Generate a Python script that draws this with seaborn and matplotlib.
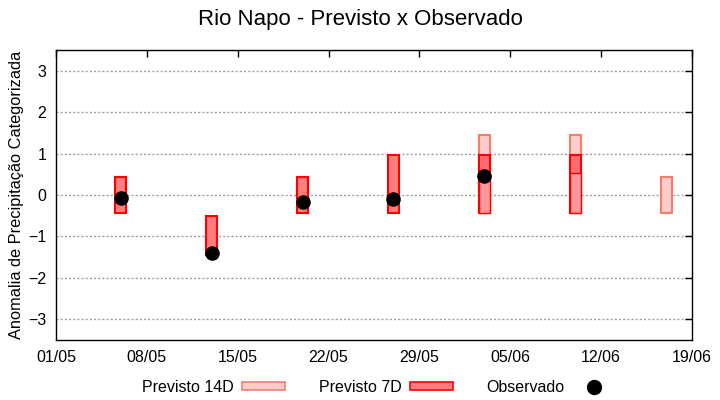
import matplotlib
matplotlib.use("Agg")
import matplotlib.pyplot as plt
import matplotlib.dates as mdates
from matplotlib.patches import Patch
from matplotlib.lines import Line2D
import numpy as np
import pandas as pd
import seaborn as sns

# ---------------- data ----------------
weeks = ["2024-05-06", "2024-05-13", "2024-05-20", "2024-05-27",
         "2024-06-03", "2024-06-10", "2024-06-17"]
prev7_low = [-0.43, -1.45, -0.43, -0.43, -0.43, -0.43, np.nan]
prev7_high = [0.43, -0.50, 0.43, 0.96, 0.96, 0.96, np.nan]
# level where the lighter (overlapping) part of the 7D box ends
prev7_split = [np.nan, np.nan, np.nan, np.nan, 0.52, 0.52, np.nan]
prev14_low = [np.nan, np.nan, np.nan, np.nan, -0.43, -0.43, -0.43]
prev14_high = [np.nan, np.nan, np.nan, np.nan, 1.45, 1.45, 0.43]
observado = [-0.08, -1.40, -0.17, -0.09, 0.45, np.nan, np.nan]

xtick_dates = ["2024-05-01", "2024-05-08", "2024-05-15", "2024-05-22",
               "2024-05-29", "2024-06-05", "2024-06-12", "2024-06-19"]
ytick_vals = [-3, -2, -1, 0, 1, 2, 3]

title = "Rio Napo - Previsto x Observado"
ylabel = "Anomalia de Precipitação Categorizada"
legend_labels = ["Previsto 14D", "Previsto 7D", "Observado"]

# ---------------- style ----------------
sns.set_style("white")
plt.rcParams["font.family"] = ["Liberation Sans", "DejaVu Sans"]
plt.rcParams["text.color"] = "black"
plt.rcParams["axes.labelcolor"] = "black"
plt.rcParams["xtick.color"] = "black"
plt.rcParams["ytick.color"] = "black"

df = pd.DataFrame({
    "data": pd.to_datetime(weeks),
    "p7_lo": prev7_low, "p7_hi": prev7_high, "p7_split": prev7_split,
    "p14_lo": prev14_low, "p14_hi": prev14_high,
    "obs": observado,
})

fig = plt.figure(figsize=(7.2, 4.0), dpi=100)
ax = fig.add_axes([56 / 720, 1 - 340 / 400, (692 - 56) / 720, (340 - 50) / 400])

bar_w = 0.85
c14_fill = "#FFCCCC"
c14_edge = "#F47F6F"
c7_fill = "#FF7F7F"
c7_top_fill = "#FF6E6E"
c7_low_fill = "#FF9999"
c7_edge = "#FF0000"

d14 = df.dropna(subset=["p14_lo"])
ax.bar(d14["data"], d14["p14_hi"] - d14["p14_lo"], bottom=d14["p14_lo"],
       width=bar_w, color=c14_fill, edgecolor=c14_edge, linewidth=1.5, zorder=2)

d7 = df.dropna(subset=["p7_lo"])
fills = [c7_top_fill if not np.isnan(s) else c7_fill for s in d7["p7_split"]]
ax.bar(d7["data"], d7["p7_hi"] - d7["p7_lo"], bottom=d7["p7_lo"],
       width=bar_w, color=fills, edgecolor=c7_edge, linewidth=1.5, zorder=3)

dsp = df.dropna(subset=["p7_split"])
ax.bar(dsp["data"], dsp["p7_split"] - dsp["p7_lo"], bottom=dsp["p7_lo"],
       width=bar_w, color=c7_low_fill, edgecolor=c7_edge, linewidth=1.0, zorder=3.5)

dobs = df.dropna(subset=["obs"])
sns.scatterplot(data=dobs, x="data", y="obs", ax=ax, color="black",
                s=110, edgecolor="black", linewidth=0, zorder=4, legend=False)

ax.set_xlim(pd.Timestamp(xtick_dates[0]), pd.Timestamp(xtick_dates[-1]))
ax.set_ylim(-3.5, 3.5)
ax.set_xticks(pd.to_datetime(xtick_dates))
ax.xaxis.set_major_formatter(mdates.DateFormatter("%d/%m"))
ax.set_yticks(ytick_vals)
ax.set_xlabel("")
ax.set_ylabel(ylabel, fontsize=11.8, labelpad=3)

ax.tick_params(axis="both", direction="in", length=5, width=1, color="black",
               labelsize=11.5, top=True, right=True, pad=7, labelcolor="black")
for s in ax.spines.values():
    s.set_color("black")
    s.set_linewidth(1)

ax.yaxis.grid(True, color="#A0A0A0", linestyle=(0, (1.5, 1.5)), linewidth=1, zorder=0)
ax.xaxis.grid(False)
ax.set_axisbelow(True)

fig.text(0.5, 1 - 20 / 400, title, ha="center", va="center", fontsize=16, color="black")

handles = [
    Patch(facecolor=c14_fill, edgecolor=c14_edge, linewidth=1.2),
    Patch(facecolor=c7_fill, edgecolor=c7_edge, linewidth=1.2),
    Line2D([], [], marker="o", color="black", linestyle="none", markersize=10),
]
fig.legend(handles, legend_labels, loc="center", bbox_to_anchor=(379 / 720, 1 - 387 / 400),
           ncol=3, frameon=False, markerfirst=False, fontsize=11.5,
           handlelength=2.7, handleheight=0.4, handletextpad=0.5, columnspacing=2.1)

fig.savefig("out.png", dpi=100)
